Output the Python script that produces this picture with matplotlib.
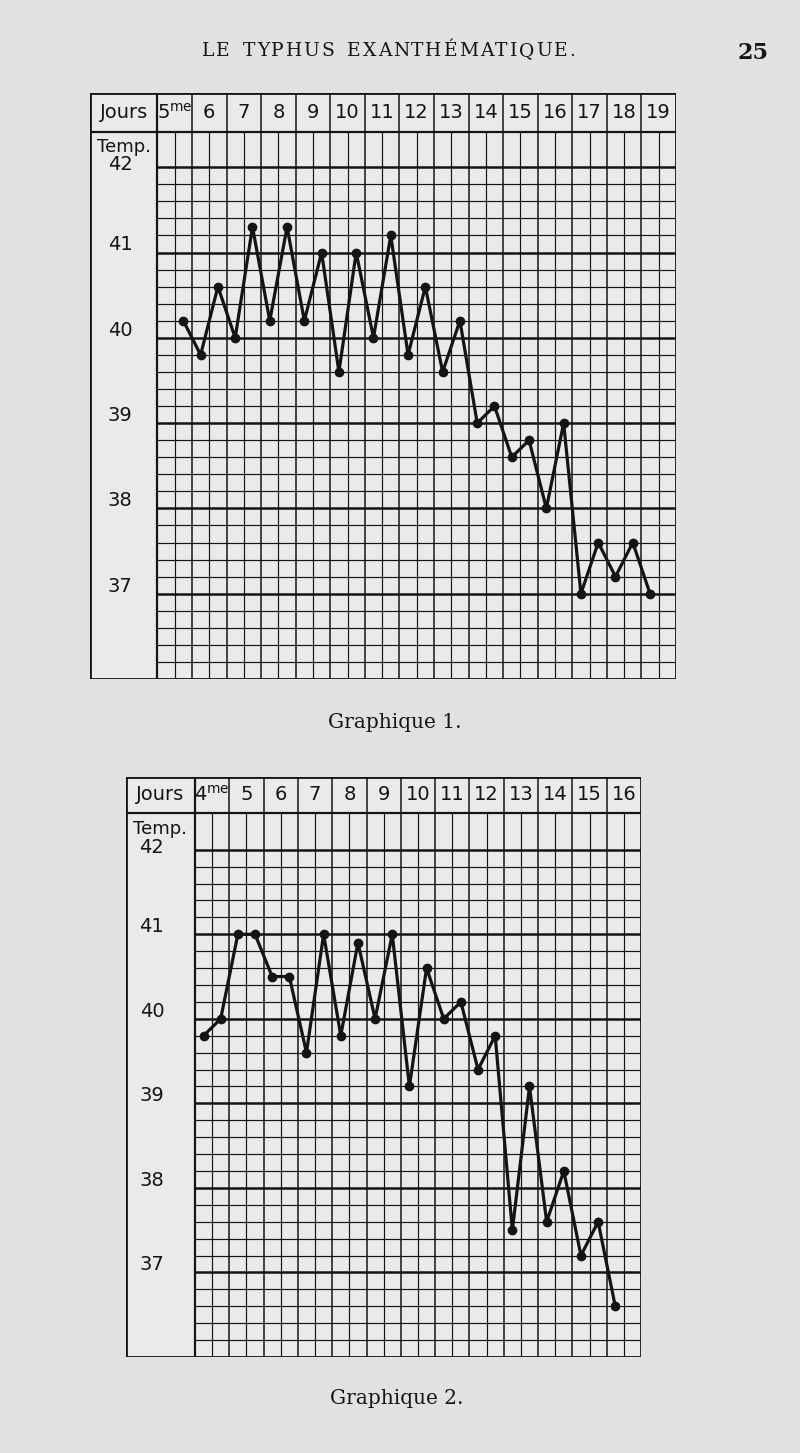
import numpy as np
import matplotlib
matplotlib.use("Agg")
import matplotlib.pyplot as plt
from matplotlib.patches import Rectangle

# Graphique 1 : days 5 to 19, two readings a day (morning / evening)
days_1 = ['5$^{\\mathrm{me}}$', '6', '7', '8', '9', '10', '11', '12', '13',
          '14', '15', '16', '17', '18', '19']
start_1 = 1   # first reading is the evening of the 5th day
temps_1 = [40.2, 39.8, 40.6, 40.0, 41.3, 40.2, 41.3, 40.2, 41.0, 39.6,
           41.0, 40.0, 41.2, 39.8, 40.6, 39.6, 40.2, 39.0, 39.2, 38.6,
           38.8, 38.0, 39.0, 37.0, 37.6, 37.2, 37.6, 37.0]

# Graphique 2 : days 4 to 16
days_2 = ['4$^{\\mathrm{me}}$', '5', '6', '7', '8', '9', '10', '11', '12',
          '13', '14', '15', '16']
start_2 = 0
temps_2 = [39.8, 40.0, 41.0, 41.0, 40.5, 40.5, 39.6, 41.0, 39.8, 40.9,
           40.0, 41.0, 39.2, 40.6, 40.0, 40.2, 39.4, 39.8, 37.5, 39.2,
           37.6, 38.2, 37.2, 37.6, 36.6]

temp_labels = [42, 41, 40, 39, 38, 37]
page_title = 'LE TYPHUS EXANTHÉMATIQUE.'
page_number = '25'

W, H = 800, 1453
INK = '#141414'
PAPER = '#e1e1e1'
SHEET = '#eaeaea'


def px_axes(fig, left, top, right, bottom):
    return fig.add_axes([left / W, 1 - bottom / H, (right - left) / W, (bottom - top) / H])


def draw_chart(ax, days, start, temps, label_w, grid_top, head_top, lab_shift):
    n = 2 * len(days)
    ax.set_xlim(-label_w, n)
    ax.set_ylim(36, head_top)
    ax.axis('off')

    ax.add_patch(Rectangle((-label_w, 36), label_w + n, head_top - 36,
                           facecolor=SHEET, edgecolor='none', zorder=0))

    # horizontal rulings every 0.2 degree, heavy on whole degrees
    for k in range(1, 31):
        t = 36 + k * 0.2
        heavy = k % 5 == 0
        ax.hlines(t, 0, n, color=INK, lw=1.8 if heavy else 0.85, zorder=1)

    # vertical rulings, one per reading
    for k in range(1, n):
        if k % 2 == 0:
            ax.vlines(k, 36, head_top, color=INK, lw=1.1, zorder=1)
        else:
            ax.vlines(k, 36, grid_top, color=INK, lw=0.85, zorder=1)

    ax.hlines(grid_top, -label_w, n, color=INK, lw=1.6, zorder=2)
    ax.vlines(0, 36, head_top, color=INK, lw=1.6, zorder=2)
    ax.add_patch(Rectangle((-label_w, 36), label_w + n, head_top - 36,
                           facecolor='none', edgecolor=INK, lw=2.0, zorder=3))

    head_mid = (grid_top + head_top) / 2
    ax.text(-label_w / 2, head_mid, 'Jours', ha='center', va='center',
            fontsize=14, color=INK, family='DejaVu Sans')
    for i, lab in enumerate(days):
        ax.text(2 * i + 1, head_mid, lab, ha='center', va='center',
                fontsize=14, color=INK, family='DejaVu Sans')

    ax.text(-label_w / 2, 42.24, 'Temp.', ha='center', va='center',
            fontsize=13, color=INK, family='DejaVu Sans')
    for t in temp_labels:
        dy = 0.03 if t == 42 else 0.09
        ax.text(-label_w / 2 + lab_shift, t + dy, str(t), ha='center', va='center',
                fontsize=14, color=INK, family='DejaVu Sans')

    xs = np.arange(len(temps)) + start + 0.5
    ax.plot(xs, temps, color=INK, lw=2.3, marker='o', ms=6,
            solid_joinstyle='miter', zorder=4)


def spaced_text(fig, x0, x1, y, s, space_w, **kw):
    # lay the running head out letter by letter so it spans x0..x1 (pixels)
    renderer = fig.canvas.get_renderer()
    widths = []
    for ch in s:
        if ch == ' ':
            widths.append(None)
            continue
        t = fig.text(0, 0, ch, **kw)
        widths.append(t.get_window_extent(renderer).width)
        t.remove()
    ink_w = sum(w if w is not None else space_w for w in widths)
    gap = max(0.0, (x1 - x0 - ink_w) / (len(s) - 1))
    x = x0
    for ch, w in zip(s, widths):
        if w is None:
            x += space_w + gap
            continue
        fig.text(x / W, 1 - y / H, ch, ha='left', va='center', **kw)
        x += w + gap


fig = plt.figure(figsize=(W / 100, H / 100), dpi=100, facecolor=PAPER)

ax1 = px_axes(fig, 90, 93, 676, 679)
draw_chart(ax1, days_1, start_1, temps_1, 3.9, 42.41, 42.87, -0.2)

ax2 = px_axes(fig, 126, 777, 641, 1357)
draw_chart(ax2, days_2, start_2, temps_2, 4.02, 42.44, 42.86, -0.5)

spaced_text(fig, 202, 575, 51, page_title, 9.0,
            fontsize=13.5, color=INK, family='DejaVu Serif')
fig.text(753 / W, 1 - 53 / H, page_number, ha='center', va='center',
         fontsize=16, fontweight='bold', color=INK, family='DejaVu Serif')
fig.text(395 / W, 1 - 722 / H, 'Graphique 1.', ha='center', va='center',
         fontsize=14.5, color=INK, family='DejaVu Serif')
fig.text(397 / W, 1 - 1398 / H, 'Graphique 2.', ha='center', va='center',
         fontsize=14.5, color=INK, family='DejaVu Serif')

fig.savefig('out.png', dpi=100, facecolor=PAPER)
